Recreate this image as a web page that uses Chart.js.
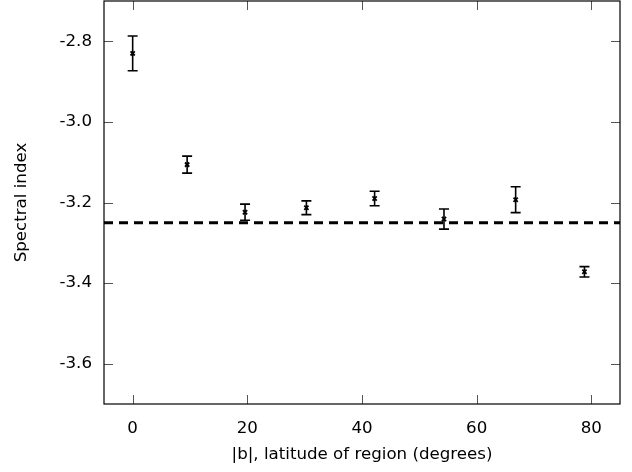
<!DOCTYPE html>
<html>
<head>
<meta charset="utf-8">
<script src="https://cdn.jsdelivr.net/npm/chart.js@4/dist/chart.umd.min.js"></script>
<style>
  html, body { margin: 0; padding: 0; background: #fff; }
  #wrap { width: 632px; height: 472px; }
</style>
</head>
<body>
<div id="wrap"><canvas id="c" width="632" height="472"></canvas></div>
<script>
// Data
const latitudes = [0, 9.5, 19.6, 30.3, 42.2, 54.3, 66.8, 78.8];
const spectralIndex = [-2.830, -3.106, -3.224, -3.213, -3.190, -3.241, -3.193, -3.372];
const errLow  = [0.043, 0.021, 0.020, 0.017, 0.018, 0.025, 0.032, 0.013];
const errHigh = [0.043, 0.021, 0.020, 0.017, 0.018, 0.025, 0.032, 0.013];
const referenceLevel = -3.25;
const xRange = [-5, 85];
const yRange = [-3.7, -2.7];
const xTicks = [0, 20, 40, 60, 80];
const yTicks = [-3.6, -3.4, -3.2, -3.0, -2.8];
const xTitle = '|b|, latitude of region (degrees)';
const yTitle = 'Spectral index';

const FONT = 'DejaVu Sans';
const FS = 16.67;

const points = latitudes.map((x, i) => ({ x: x, y: spectralIndex[i] }));

const framePlugin = {
  id: 'frame',
  afterDatasetsDraw(chart) {
    const ctx = chart.ctx;
    const a = chart.chartArea;
    const xs = chart.scales.x, ys = chart.scales.y;
    ctx.save();
    // error bars
    ctx.strokeStyle = '#000';
    ctx.lineWidth = 1.6;
    latitudes.forEach((x, i) => {
      const px = xs.getPixelForValue(x);
      const top = ys.getPixelForValue(spectralIndex[i] + errHigh[i]);
      const bot = ys.getPixelForValue(spectralIndex[i] - errLow[i]);
      ctx.beginPath();
      ctx.moveTo(px, top); ctx.lineTo(px, bot);
      ctx.moveTo(px - 5, top); ctx.lineTo(px + 5, top);
      ctx.moveTo(px - 5, bot); ctx.lineTo(px + 5, bot);
      ctx.stroke();
    });
    // inward ticks
    ctx.strokeStyle = '#555';
    ctx.lineWidth = 1;
    const L = 9;
    ctx.beginPath();
    xTicks.forEach(v => {
      const p = Math.round(xs.getPixelForValue(v)) + 0.5;
      ctx.moveTo(p, a.bottom); ctx.lineTo(p, a.bottom - L);
      ctx.moveTo(p, a.top); ctx.lineTo(p, a.top + L);
    });
    yTicks.forEach(v => {
      const p = Math.round(ys.getPixelForValue(v)) + 0.5;
      ctx.moveTo(a.left, p); ctx.lineTo(a.left + L, p);
      ctx.moveTo(a.right, p); ctx.lineTo(a.right - L, p);
    });
    ctx.stroke();
    // frame
    ctx.strokeStyle = '#000';
    ctx.lineWidth = 1.2;
    ctx.strokeRect(a.left, a.top, a.right - a.left, a.bottom - a.top);
    ctx.restore();
  }
};

function zeroPad(s) { s.paddingTop = 0; s.paddingBottom = 0; s.paddingLeft = 0; s.paddingRight = 0; }

new Chart(document.getElementById('c'), {
  type: 'scatter',
  data: {
    datasets: [
      {
        label: 'data',
        data: points,
        pointStyle: 'crossRot',
        radius: 3,
        borderColor: '#000',
        backgroundColor: '#000',
        borderWidth: 1.8,
        showLine: false
      },
      {
        label: 'ref',
        type: 'line',
        data: [{ x: xRange[0], y: referenceLevel }, { x: xRange[1], y: referenceLevel }],
        borderColor: '#000',
        borderWidth: 3,
        borderDash: [9, 6],
        pointRadius: 0,
        fill: false
      }
    ]
  },
  options: {
    responsive: false,
    animation: false,
    devicePixelRatio: 1,
    layout: { autoPadding: false, padding: { top: 1, right: 12, left: 0, bottom: 0 } },
    plugins: { legend: { display: false }, tooltip: { enabled: false } },
    scales: {
      x: {
        type: 'linear',
        min: xRange[0], max: xRange[1],
        grid: { display: false, drawTicks: false },
        border: { display: false },
        afterBuildTicks: s => { s.ticks = xTicks.map(v => ({ value: v })); },
        afterFit: s => { s.height = 68; zeroPad(s); },
        ticks: { color: '#000', font: { family: FONT, size: FS }, padding: 15, maxRotation: 0 },
        title: { display: true, text: xTitle, color: '#000', font: { family: FONT, size: FS }, padding: { top: 4, bottom: 7 } }
      },
      y: {
        type: 'linear',
        min: yRange[0], max: yRange[1],
        grid: { display: false, drawTicks: false },
        border: { display: false },
        afterBuildTicks: s => { s.ticks = yTicks.map(v => ({ value: v })); },
        afterFit: s => { s.width = 104; zeroPad(s); },
        ticks: { color: '#000', font: { family: FONT, size: FS }, padding: 12, callback: v => v.toFixed(1) },
        title: { display: true, text: yTitle, color: '#000', font: { family: FONT, size: FS }, padding: { top: 12, bottom: 0 } }
      }
    }
  },
  plugins: [framePlugin]
});
</script>
</body>
</html>
